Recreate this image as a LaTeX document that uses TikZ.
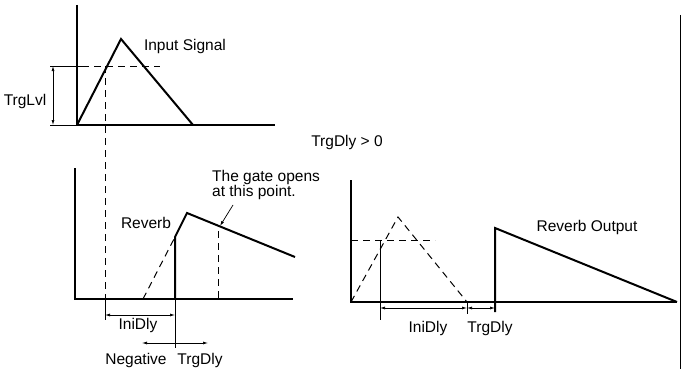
\documentclass[tikz,border=0pt]{standalone}
\usepackage{fontspec}
\setmainfont{Liberation Sans}
\usepackage{tikz}
\usetikzlibrary{arrows.meta,positioning,calc}

\begin{document}
\begin{tikzpicture}[
  x=1pt,y=-1pt,
  axis/.style={line width=1.1pt,black},
  sig/.style={line width=2pt,black,line join=miter},
  dashline/.style={line width=1pt,dash pattern=on 7pt off 5pt},
  dim/.style={{Latex[length=5pt,width=3pt]}-{Latex[length=5pt,width=3pt]},line width=0.7pt},
  tick/.style={line width=0.7pt},
  lbl/.style={font=\fontsize{15.5}{15}\selectfont,inner sep=0pt}
]
  \useasboundingbox (0,0) rectangle (682,369);

  % --- input signal (top)
  \coordinate (o1) at (77,125);
  \coordinate (y1) at (77,5);
  \coordinate (x1) at (275,125);
  \coordinate (pk1) at (121,39);
  \coordinate (e1) at (193,125);
  \draw[axis] (y1) -- (o1) -- (x1);
  \draw[sig] (o1) -- (pk1) -- (e1);
  \coordinate (lv1) at (82,66);
  \coordinate (lv2) at (160,66);
  \draw[dashline] (lv1) -- (lv2);
  \coordinate (tl1) at (50,66);
  \coordinate (tl2) at (50,125);
  \coordinate (ta1) at (53,66);
  \coordinate (ta2) at (53,125);
  \draw[tick] (tl1) -- (lv1);
  \draw[tick] (tl2) -- (o1);
  \draw[dim] (ta1) -- (ta2);
  \node[lbl] (trglvl) at (25,101) {TrgLvl};
  \node[lbl] (input) at (185,46) {Input Signal};

  \node[lbl] (cond) at (347,142) {TrgDly > 0};

  % --- reverb, negative delay (lower left)
  \coordinate (o2) at (75,299);
  \coordinate (y2) at (75,168);
  \coordinate (x2) at (293,299);
  \draw[axis] (y2) -- (o2) -- (x2);
  \coordinate (cross) at (105,66);
  \coordinate (cb) at (105,299);
  \coordinate (cbt) at (105,320);
  \draw[dashline] (cross) -- (cb);
  \draw[tick] (cb) -- (cbt);
  \coordinate (ds) at (143,299);
  \coordinate (gb) at (175,299);
  \coordinate (gt) at (175,237);
  \coordinate (pk2) at (187,213);
  \coordinate (e2) at (295,257);
  \draw[dashline] (ds) -- (gt);
  \draw[sig] (gb) -- (gt) -- (pk2) -- (e2);
  \coordinate (gp) at (218,231);
  \coordinate (gpb) at (218,299);
  \draw[dashline] (gp) -- (gpb);
  \node[lbl] (reverb) at (146,223) {Reverb};
  \node[lbl,align=left,anchor=north west] (gate) at (212,170) {The gate opens\\at this point.};
  \coordinate (ga) at (233,205);
  \coordinate (gh) at (220,226);
  \draw[-{Latex[length=5pt,width=3pt]},line width=0.7pt] (ga) -- (gh);
  \coordinate (ia1) at (105,315);
  \coordinate (ia2) at (175,315);
  \draw[dim] (ia1) -- (ia2);
  \coordinate (gbt) at (175,348);
  \draw[tick] (gb) -- (gbt);
  \coordinate (nm) at (175,343);
  \coordinate (nl) at (142,343);
  \coordinate (nr) at (208,343);
  \draw[-{Latex[length=5pt,width=3pt]},line width=0.7pt] (nm) -- (nl);
  \draw[-{Latex[length=5pt,width=3pt]},line width=0.7pt] (nm) -- (nr);
  \node[lbl] (ini2) at (138,325) {IniDly};
  \node[lbl] (neg) at (136,360) {Negative};
  \node[lbl] (trg2) at (200,360) {TrgDly};

  % --- reverb output, positive delay (lower right)
  \coordinate (o3) at (351,302);
  \coordinate (y3) at (351,180);
  \coordinate (x3) at (677,302);
  \draw[axis] (y3) -- (o3) -- (x3);
  \coordinate (pk3) at (398,217);
  \coordinate (e3) at (467,302);
  \draw[dashline] (o3) -- (pk3) -- (e3);
  \coordinate (lv3) at (435,240);
  \coordinate (lv0) at (351,240);
  \draw[dashline] (lv0) -- (lv3);
  \coordinate (c3) at (380,240);
  \coordinate (c3b) at (380,320);
  \draw[tick] (c3) -- (c3b);
  \coordinate (e3b) at (467,314);
  \draw[tick] (e3) -- (e3b);
  \coordinate (pb) at (495,312);
  \coordinate (pt) at (495,228);
  \draw[sig] (pb) -- (pt) -- (x3);
  \coordinate (ib1) at (380,308);
  \coordinate (ib2) at (467,308);
  \coordinate (ib3) at (495,308);
  \draw[dim] (ib1) -- (ib2);
  \draw[dim] (ib2) -- (ib3);
  \node[lbl] (ini3) at (428,328) {IniDly};
  \node[lbl] (trg3) at (490,328) {TrgDly};
  \node[lbl] (out) at (587,227) {Reverb Output};

  % --- page edge
  \coordinate (edt) at (680,15);
  \coordinate (edb) at (680,369);
  \draw[line width=0.9pt] (edt) -- (edb);
\end{tikzpicture}
\end{document}
